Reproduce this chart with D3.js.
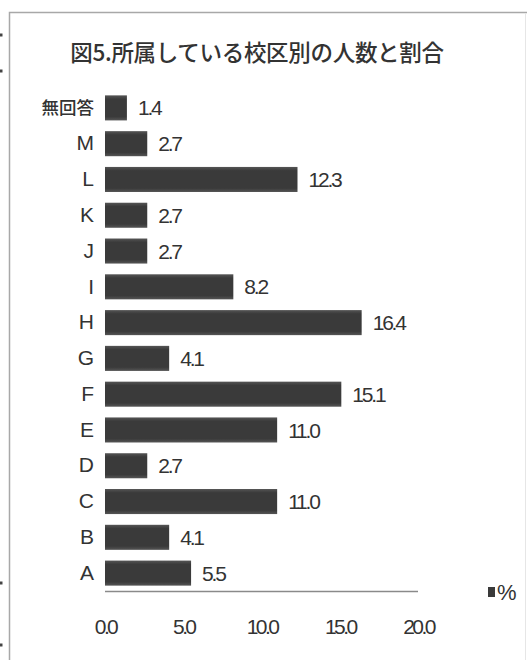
<!DOCTYPE html>
<html lang="ja">
<head>
<meta charset="utf-8">
<script src="https://cdn.jsdelivr.net/npm/d3@7"></script>
<style>
  html, body { margin: 0; padding: 0; background: #fff; }
  svg { display: block; }
  text { fill: #333; }
</style>
</head>
<body>
<svg id="chart" width="527" height="660"></svg>
<script>
// 校区 (top to bottom as drawn)
const categories = ["無回答", "M", "L", "K", "J", "I", "H", "G", "F", "E", "D", "C", "B", "A"];
// 割合 (%)
const percents = [1.4, 2.7, 12.3, 2.7, 2.7, 8.2, 16.4, 4.1, 15.1, 11.0, 2.7, 11.0, 4.1, 5.5];
const xTicks = [0, 5, 10, 15, 20];
const titleText = "図5.所属している校区別の人数と割合";
const legendLabel = "%";

const svg = d3.select("#chart");
const latin = "'Liberation Sans', Arial, sans-serif";
const cjk = "'Noto Sans CJK JP', sans-serif";

// frame
svg.append("path").attr("d", "M9.5,660V12.5H527").attr("fill", "none")
  .attr("stroke", "#a8a8a8").attr("stroke-width", 1.5);
svg.append("line").attr("x1", 525.5).attr("x2", 525.5).attr("y1", 13).attr("y2", 660)
  .attr("stroke", "#e6e6e6").attr("stroke-width", 1);
[35, 71, 583, 645].forEach(y => svg.append("rect")
  .attr("x", 0).attr("y", y - 1.5).attr("width", 2.5).attr("height", 3).attr("fill", "#444"));

// title
svg.append("text").attr("x", 257).attr("y", 61).attr("text-anchor", "middle")
  .style("font-family", cjk).style("font-size", "22.5px").style("font-weight", 500)
  .style("letter-spacing", "-0.3px").text(titleText);

const x = d3.scaleLinear().domain([0, 20]).range([105, 418]);
const y = d3.scaleBand().domain(categories).range([90, 591])
  .paddingInner(0.3).paddingOuter(0.15);

// bar shading
const grad = svg.append("defs").append("linearGradient").attr("id", "barShade")
  .attr("x1", 0).attr("y1", 0).attr("x2", 0).attr("y2", 1);
grad.append("stop").attr("offset", "0%").attr("stop-color", "#555");
grad.append("stop").attr("offset", "15%").attr("stop-color", "#3a3a3a");
grad.append("stop").attr("offset", "85%").attr("stop-color", "#3a3a3a");
grad.append("stop").attr("offset", "100%").attr("stop-color", "#555");

const data = categories.map((c, i) => ({ c, v: percents[i] }));

svg.append("g").selectAll("rect").data(data).join("rect")
  .attr("x", x(0)).attr("y", d => y(d.c))
  .attr("width", d => x(d.v) - x(0)).attr("height", y.bandwidth())
  .attr("fill", "url(#barShade)");

// value labels
const fmt = d3.format(".1f");
svg.append("g").selectAll("text").data(data).join("text")
  .attr("x", d => x(d.v) + 11).attr("y", d => y(d.c) + y.bandwidth() / 2)
  .attr("dy", "0.36em")
  .style("font-family", latin).style("font-size", "21px").style("letter-spacing", "-2.2px")
  .text(d => fmt(d.v));

// category axis
const yAxis = svg.append("g").attr("transform", "translate(94,0)")
  .call(d3.axisLeft(y).tickSize(0).tickPadding(0));
yAxis.select(".domain").remove();
yAxis.selectAll("text")
  .style("font-family", d => /[A-Z]/.test(d) ? latin : cjk)
  .style("font-size", d => /[A-Z]/.test(d) ? "21px" : "17.5px")
  .style("font-weight", d => /[A-Z]/.test(d) ? 400 : 500)
  .style("fill", "#333");

// value axis
const xAxis = svg.append("g").attr("transform", "translate(0,591)")
  .call(d3.axisBottom(x).tickValues(xTicks).tickSize(0).tickPadding(28).tickFormat(fmt));
xAxis.select(".domain").attr("stroke", "#8a8a8a").attr("stroke-width", 1.5)
  .attr("d", `M${x(0)},0.5H${x(20)}`);
xAxis.selectAll("text")
  .style("font-family", latin).style("font-size", "21px").style("letter-spacing", "-2.6px")
  .style("fill", "#333");

// legend
const lg = svg.append("g").attr("transform", "translate(488,592)");
lg.append("rect").attr("x", 0).attr("y", -5).attr("width", 7).attr("height", 10).attr("fill", "#3a3a3a");
lg.append("text").attr("x", 9).attr("y", 0).attr("dy", "0.36em")
  .style("font-family", latin).style("font-size", "22px").text(legendLabel);
</script>
</body>
</html>
